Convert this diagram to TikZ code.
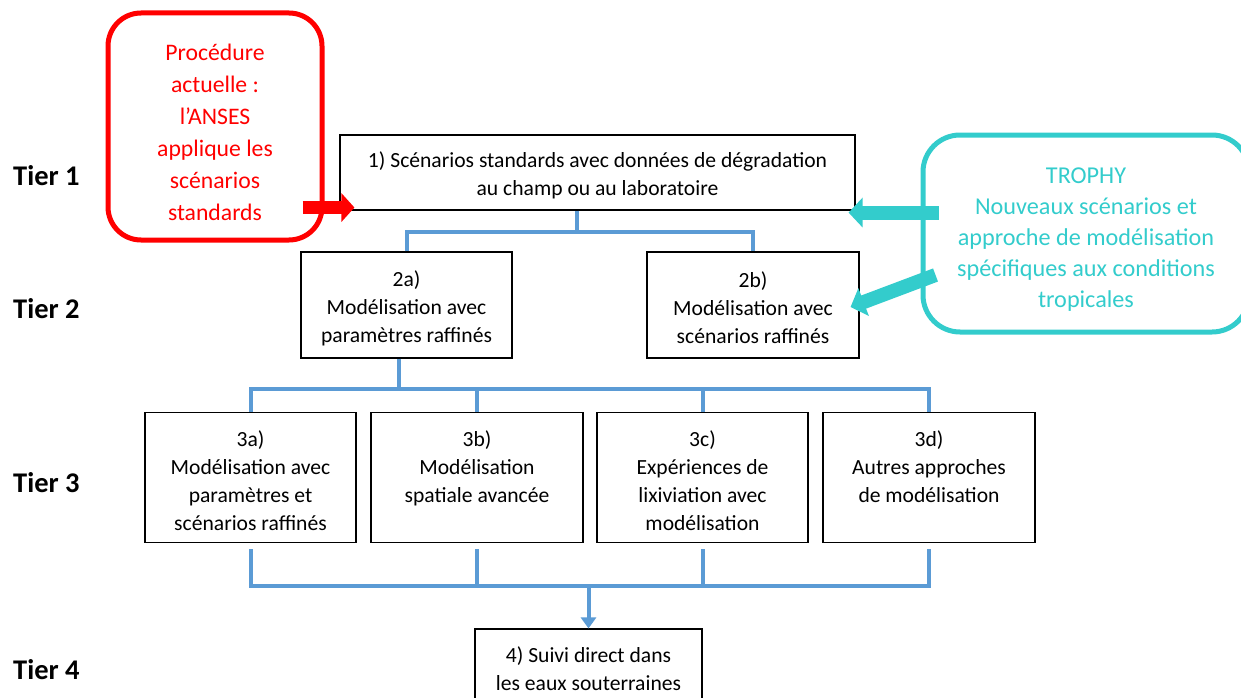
\documentclass[tikz,border=0pt]{standalone}
\usepackage{fontspec}
\setmainfont{Carlito}
\usetikzlibrary{arrows.meta}
\definecolor{tealc}{RGB}{51,204,204}
\definecolor{blueline}{RGB}{91,155,213}
\newcommand{\tierstrut}{\rule{0pt}{22pt}}
\begin{document}
\begin{tikzpicture}[
    x=1pt, y=-1pt,
    tierbox/.style={draw, line width=1.1pt, align=center, inner sep=0pt,
        font=\fontsize{21.6}{28}\selectfont},
    tiername/.style={anchor=west, inner sep=0pt, font=\fontsize{28.5}{30}\selectfont\bfseries},
    callred/.style={draw=red, line width=5pt, rounded corners=33pt, text=red, align=center,
        minimum width=214pt, minimum height=227pt, font=\fontsize{23.7}{32}\selectfont},
    callteal/.style={draw=tealc, line width=5pt, rounded corners=37pt, text=tealc, align=center,
        minimum width=326pt, minimum height=197pt, font=\fontsize{24.2}{31}\selectfont},
    link/.style={draw=blueline, line width=4pt},
    redarrow/.style={draw=red, line width=13pt, -{Triangle[length=13pt,width=28pt]}},
    tealarrow/.style={draw=tealc, line width=14pt, -{Triangle[length=14pt,width=29pt]}}
]
\clip (0,0) rectangle (1241,698);

% tiers
\node[tiername] (tier1) at (13,176) {Tier 1};
\node[tiername] (tier2) at (13,309) {Tier 2};
\node[tiername] (tier3) at (13,483) {Tier 3};
\node[tiername] (tier4) at (13,670) {Tier 4};

% boxes
\node[tierbox, minimum width=515pt, minimum height=75pt] (s1) at (597.5,172.5)
    {\tierstrut 1) Scénarios standards avec données de dégradation\\au champ ou au laboratoire};
\node[tierbox, minimum width=211pt, minimum height=106pt] (s2a) at (406.5,305)
    {\tierstrut 2a)\\Modélisation avec\\paramètres raffinés};
\node[tierbox, minimum width=212pt, minimum height=106pt] (s2b) at (753,305)
    {\tierstrut 2b)\\Modélisation avec\\scénarios raffinés};
\node[tierbox, minimum width=211pt, minimum height=130pt] (s3a) at (250.5,477.5)
    {\tierstrut 3a)\\Modélisation avec\\paramètres et\\scénarios raffinés};
\node[tierbox, minimum width=212pt, minimum height=130pt] (s3b) at (477,477.5)
    {\tierstrut 3b)\\Modélisation\\spatiale avancée\\~};
\node[tierbox, minimum width=211pt, minimum height=130pt] (s3c) at (702.5,477.5)
    {\tierstrut 3c)\\Expériences de\\lixiviation avec\\modélisation};
\node[tierbox, minimum width=212pt, minimum height=130pt] (s3d) at (929,477.5)
    {\tierstrut 3d)\\Autres approches\\de modélisation\\~};
\node[tierbox, minimum width=227pt, minimum height=80pt] (s4) at (588.5,669)
    {4) Suivi direct dans\\les eaux souterraines};

% callouts
\node[callred] (anses) at (215,126.5)
    {\rule{0pt}{29pt}Procédure\\actuelle :\\l’ANSES\\applique les\\scénarios\\standards};
\node[callteal] (trophy) at (1086,233.5)
    {\rule{0pt}{28pt}TROPHY\\Nouveaux scénarios et\\approche de modélisation\\spécifiques aux conditions\\tropicales};

% blue links
\draw[link] ([xshift=-21pt]s1.south) -- ++(0,21) coordinate (b1);
\draw[link] (s2a.north) |- (b1) -| (s2b.north);
\draw[link] ([xshift=-8pt]s2a.south) -- ++(0,30) coordinate (b2);
\draw[link] (s3a.north) |- (b2) -| (s3d.north);
\draw[link] (s3b.north) -- (s3b.north |- b2);
\draw[link] (s3c.north) -- (s3c.north |- b2);
\path (s4.north) ++(0,-42) coordinate (b3);
\draw[link] ([yshift=-6pt]s3a.south) |- (b3) -| ([yshift=-6pt]s3d.south);
\draw[link] ([yshift=-6pt]s3b.south) -- (s3b.south |- b3);
\draw[link] ([yshift=-6pt]s3c.south) -- (s3c.south |- b3);
\draw[link, -{Triangle[length=11pt,width=15pt]}] (b3) -- (s4.north);

% callout arrows
\draw[redarrow] ([xshift=-22pt,yshift=3pt]anses.east |- s1.south) -- ([xshift=15pt,yshift=3pt]s1.south west);
\draw[tealarrow] ([xshift=18pt,yshift=-2pt]trophy.west |- s1.south) -- ([xshift=-7pt,yshift=-2pt]s1.south east);
\draw[tealarrow] ([xshift=15pt,yshift=-41.5pt]trophy.west) -- ([xshift=-9pt,yshift=-2pt]s2b.east);
\end{tikzpicture}
\end{document}
